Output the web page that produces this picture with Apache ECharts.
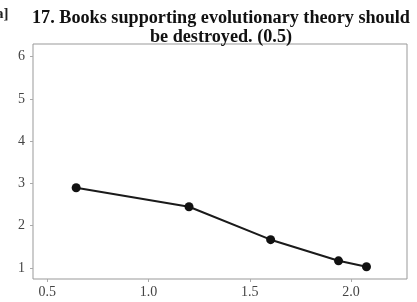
<!DOCTYPE html>
<html>
<head>
<meta charset="utf-8">
<script src="https://cdn.jsdelivr.net/npm/echarts@6/dist/echarts.min.js"></script>
<style>
html, body { margin: 0; padding: 0; background: #fff; }
#chart { width: 417px; height: 302px; }
</style>
</head>
<body>
<div id="chart"></div>
<script>
// values
var xValues = [0.643, 1.2, 1.603, 1.938, 2.076];
var yValues = [2.9, 2.45, 1.67, 1.17, 1.03];
var xTicks = [0.5, 1.0, 1.5, 2.0];
var yTicks = [1, 2, 3, 4, 5, 6];

var points = [];
for (var i = 0; i < xValues.length; i++) {
  points.push([xValues[i], yValues[i]]);
}

var chart = echarts.init(document.getElementById('chart'));
var serif = '"Liberation Serif", "DejaVu Serif", serif';

chart.setOption({
  animation: false,
  title: {
    text: '17. Books supporting evolutionary theory should\nbe destroyed. (0.5)',
    left: 216,
    textAlign: 'center',
    top: 4,
    textStyle: {
      fontFamily: serif,
      fontWeight: 'bold',
      fontSize: 18.2,
      lineHeight: 19,
      color: '#111'
    }
  },
  graphic: [{
    type: 'text',
    left: -4,
    top: 7,
    style: { text: 'a]', font: 'bold 15px ' + serif, fill: '#222' }
  }],
  grid: {
    left: 33, right: 10, top: 44, bottom: 23,
    show: true,
    borderColor: '#999',
    borderWidth: 1
  },
  xAxis: {
    type: 'value',
    min: 0.43,
    max: 2.276,
    splitLine: { show: false },
    axisLine: { show: false },
    axisTick: { show: true, customValues: xTicks, length: 3, lineStyle: { color: '#aaa' } },
    axisLabel: {
      customValues: xTicks,
      formatter: function (v) { return v.toFixed(1); },
      fontFamily: serif,
      fontSize: 14,
      color: '#444',
      margin: 6
    }
  },
  yAxis: {
    type: 'value',
    min: 0.74,
    max: 6.3,
    splitLine: { show: false },
    axisLine: { show: false },
    axisTick: { show: true, customValues: yTicks, length: 3, lineStyle: { color: '#aaa' } },
    axisLabel: {
      customValues: yTicks,
      fontFamily: serif,
      fontSize: 14,
      color: '#444',
      margin: 8
    }
  },
  series: [{
    type: 'line',
    data: points,
    symbol: 'circle',
    symbolSize: 9,
    lineStyle: { color: '#1a1a1a', width: 2 },
    itemStyle: { color: '#111' }
  }]
});
</script>
</body>
</html>
